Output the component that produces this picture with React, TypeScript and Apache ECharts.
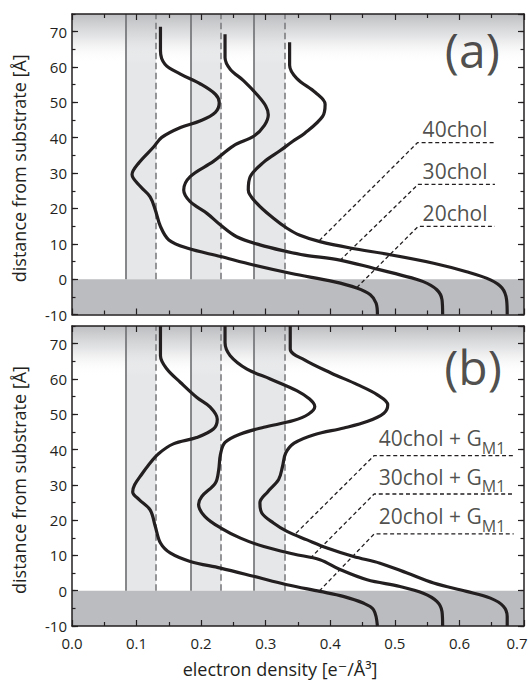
import React, { useEffect, useRef } from "react";
import * as echarts from "echarts";

// ---------- data ----------
const FONT = "'Open Sans', 'DejaVu Sans', sans-serif";
const INK = "#231f20";

const X_RANGE = [0, 0.7];
const Y_RANGE = [-10, 75];
const SOLID_X = [0.0825, 0.184, 0.282];
const DASHED_X = [0.13, 0.231, 0.33];
const SUBSTRATE_Y = [-10, 0];
const FADE_Y = [61, 75];

// panel (a)
const A_20 = [
  [0.137, 71.4], [0.137, 64.6], [0.144, 60.8], [0.168, 58], [0.199, 55.2], [0.222, 52.3],
  [0.228, 50], [0.222, 47.2], [0.199, 44.8], [0.168, 42.9], [0.139, 40.1], [0.126, 37.3],
  [0.104, 33], [0.093, 29.6], [0.106, 26.2], [0.121, 23.3], [0.129, 19.6], [0.137, 14.9],
  [0.15, 11.1], [0.178, 8.8], [0.23, 6.4], [0.281, 4.0], [0.34, 1.6], [0.405, -0.7],
  [0.441, -2.5], [0.462, -4.4], [0.471, -6.8], [0.473, -10],
];
const A_30 = [
  [0.237, 69.3], [0.237, 62.7], [0.245, 59.4], [0.266, 56.1], [0.286, 52.3], [0.3, 49],
  [0.304, 46.5], [0.298, 43.5], [0.282, 40.5], [0.25, 37.7], [0.219, 33.3], [0.183, 29],
  [0.173, 25.2], [0.183, 21.9], [0.209, 18.6], [0.23, 15.3], [0.255, 12], [0.291, 9.7],
  [0.333, 7.8], [0.36, 6.8], [0.415, 5.4], [0.467, 3.1], [0.508, 1.2], [0.544, -0.7],
  [0.565, -3], [0.573, -5.8], [0.574, -10],
];
const A_40 = [
  [0.337, 67], [0.337, 60.5], [0.348, 56.8], [0.377, 52.8], [0.392, 49.5], [0.388, 46],
  [0.36, 41.2], [0.342, 39], [0.322, 36.3], [0.297, 33.1], [0.276, 29], [0.273, 25.2],
  [0.286, 21.5], [0.312, 17.2], [0.333, 14.4], [0.353, 12.4], [0.384, 10.6], [0.431, 8.8],
  [0.493, 6.9], [0.56, 4.5], [0.611, 2.1], [0.648, -0.2], [0.666, -2.5], [0.673, -5.8],
  [0.674, -10],
];

// panel (b)
const B_20 = [
  [0.137, 75], [0.137, 66.6], [0.147, 62.8], [0.168, 59], [0.193, 54.8], [0.214, 52],
  [0.225, 48.6], [0.219, 45.8], [0.193, 43.4], [0.157, 41.6], [0.134, 38.8], [0.118, 35.5],
  [0.108, 33], [0.097, 30], [0.094, 28], [0.104, 25.8], [0.121, 22.9], [0.129, 18.2],
  [0.137, 13.5], [0.152, 10.7], [0.183, 8.3], [0.23, 6.4], [0.281, 4.1], [0.333, 1.7],
  [0.384, -0.2], [0.42, -1.6], [0.451, -3.5], [0.467, -5.4], [0.473, -10],
];
const B_30 = [
  [0.237, 75], [0.237, 70.3], [0.245, 66.6], [0.271, 62.8], [0.307, 60], [0.348, 56.7],
  [0.368, 54.3], [0.376, 52.2], [0.366, 50], [0.343, 48.2], [0.297, 46.3], [0.261, 44.4],
  [0.237, 42], [0.23, 38.7], [0.227, 34], [0.222, 30.5], [0.201, 26.7], [0.196, 24.4],
  [0.206, 21], [0.23, 17.8], [0.261, 14.9], [0.297, 12.5], [0.343, 10.4], [0.384, 8.8],
  [0.415, 6.0], [0.457, 3.1], [0.508, 1.2], [0.544, -0.7], [0.565, -3], [0.573, -5.9],
  [0.574, -10],
];
const B_40 = [
  [0.338, 75], [0.338, 68.5], [0.36, 65.4], [0.401, 61.7], [0.442, 58.4], [0.473, 55.5],
  [0.489, 52.7], [0.483, 50.3], [0.458, 48], [0.421, 46.1], [0.375, 44.2], [0.344, 41.8],
  [0.331, 39], [0.326, 35.2], [0.32, 31.5], [0.303, 28], [0.291, 24.9], [0.294, 22],
  [0.312, 19.2], [0.333, 16.8], [0.364, 14.4], [0.395, 12.1], [0.436, 9.7], [0.477, 7.8],
  [0.519, 5], [0.56, 2.2], [0.611, -0.2], [0.648, -2.1], [0.668, -4.4], [0.674, -7.3],
  [0.674, -10],
];

const A_LABELS = ["40chol", "30chol", "20chol"];
const B_LABELS = ["40chol + G", "30chol + G", "20chol + G"];
const B_SUB = "M1";
const A_LEADERS = [
  [[0.383, 10.9], [0.535, 38.6], [0.655, 38.6]],
  [[0.415, 5.3], [0.536, 26.8], [0.655, 26.8]],
  [[0.441, -2.4], [0.536, 14.9], [0.655, 14.9]],
];
const B_LEADERS = [
  [[0.347, 16.3], [0.468, 38.3], [0.684, 38.3]],
  [[0.369, 9.2], [0.468, 27.4], [0.684, 27.4]],
  [[0.383, -0.1], [0.468, 16.1], [0.684, 16.1]],
];
const A_LABEL_X = 0.543;
const B_LABEL_X = 0.475;
const PANEL_TAGS = ["(a)", "(b)"];
const TAG_POS = [[0.62, 63.4], [0.621, 61.9]];

const X_NAME = "electron density [e\u207B/\u00C5\u00B3]";
const Y_NAME = "distance from substrate [\u00C5]";

// ---------- option builders ----------
function xAx(gridIndex: number, position: string, labels: boolean) {
  return {
    type: "value",
    gridIndex,
    position,
    min: X_RANGE[0],
    max: X_RANGE[1],
    interval: 0.1,
    z: 10,
    splitLine: { show: false },
    axisLine: { show: true, onZero: false, lineStyle: { color: INK, width: 1.5 } },
    axisTick: { show: true, inside: true, length: 6, lineStyle: { color: INK, width: 1.2 } },
    minorTick: { show: true, splitNumber: 2, length: 4, lineStyle: { color: INK, width: 1.2 } },
    axisLabel: {
      show: labels,
      margin: 9,
      fontSize: 15,
      fontFamily: FONT,
      color: INK,
      formatter: (v: number) =>
        v >= X_RANGE[1] - 1e-9 ? `{r|${v.toFixed(1)}}` : v.toFixed(1),
      rich: { r: { fontSize: 15, fontFamily: FONT, color: INK, padding: [0, 14, 0, 0] } },
    },
    ...(labels
      ? {
          name: X_NAME,
          nameLocation: "middle",
          nameGap: 34,
          nameTextStyle: {
            fontSize: 18,
            lineHeight: 18,
            fontFamily: FONT,
            color: INK,
            padding: [0, 36, 0, 0],
          },
        }
      : {}),
  };
}

function yAx(gridIndex: number, position: string, major: boolean, labels: boolean) {
  return {
    type: "value",
    gridIndex,
    position,
    min: Y_RANGE[0],
    max: Y_RANGE[1],
    interval: major ? 10 : 5,
    z: 10,
    splitLine: { show: false },
    axisLine: { show: major, onZero: false, lineStyle: { color: INK, width: 1.5 } },
    axisTick: {
      show: true,
      inside: true,
      length: major ? 6 : 3.5,
      lineStyle: { color: INK, width: 1.2 },
    },
    axisLabel: {
      show: labels,
      margin: 5,
      fontSize: 15,
      fontFamily: FONT,
      color: INK,
      showMaxLabel: false,
    },
    ...(labels
      ? {
          name: Y_NAME,
          nameLocation: "middle",
          nameGap: 44,
          nameTextStyle: { fontSize: 18, fontFamily: FONT, color: INK, padding: [0, 8, 0, 0] },
        }
      : {}),
  };
}

function panelSeries(p: number, curves: number[][][], leaders: number[][][], labels: string[], labelX: number, sub: string | null) {
  const xAxisIndex = p * 2;
  const yAxisIndex = p * 4;
  const base = { xAxisIndex, yAxisIndex, silent: true, animation: false };
  const out: any[] = [];

  const bandAreas: any[] = SOLID_X.map((x0, i) => [
    { coord: [x0, 0], itemStyle: { color: "#e6e7e8" } },
    { coord: [DASHED_X[i], Y_RANGE[1]] },
  ]);
  bandAreas.push([
    { coord: [X_RANGE[0], SUBSTRATE_Y[0]], itemStyle: { color: "#bbbcbf" } },
    { coord: [X_RANGE[1], SUBSTRATE_Y[1]] },
  ]);
  out.push({
    ...base,
    type: "line",
    data: [],
    markArea: { silent: true, z: 1, label: { show: false }, data: bandAreas },
  });

  out.push({
    ...base,
    type: "line",
    data: [],
    markArea: {
      silent: true,
      z: 2,
      label: { show: false },
      itemStyle: {
        color: new echarts.graphic.LinearGradient(0, 0, 0, 1, [
          { offset: 0, color: "rgba(185,186,189,0.95)" },
          { offset: 0.45, color: "rgba(212,213,215,0.65)" },
          { offset: 1, color: "rgba(255,255,255,0)" },
        ]),
      },
      data: [[{ coord: [X_RANGE[0], FADE_Y[0]] }, { coord: [X_RANGE[1], FADE_Y[1]] }]],
    },
  });

  const vLines: any[] = [];
  SOLID_X.forEach((x) =>
    vLines.push([
      { coord: [x, 0], lineStyle: { color: "#6d6e71", width: 1.6, type: "solid" } },
      { coord: [x, Y_RANGE[1]] },
    ])
  );
  DASHED_X.forEach((x) =>
    vLines.push([
      { coord: [x, 0], lineStyle: { color: "#7d7e81", width: 1.6, type: [6.5, 3.5] } },
      { coord: [x, Y_RANGE[1]] },
    ])
  );
  out.push({
    ...base,
    type: "line",
    data: [],
    markLine: { silent: true, z: 3, symbol: ["none", "none"], label: { show: false }, data: vLines },
  });

  leaders.forEach((d) =>
    out.push({
      ...base,
      type: "line",
      z: 4,
      data: d,
      symbol: "none",
      lineStyle: { color: INK, width: 1.3, type: [4, 2.8] },
    })
  );

  curves.forEach((d) =>
    out.push({
      ...base,
      type: "line",
      z: 5,
      data: d,
      symbol: "none",
      smooth: 0.35,
      lineStyle: { color: INK, width: 3.2 },
    })
  );

  out.push({
    ...base,
    type: "scatter",
    z: 6,
    symbolSize: 1,
    itemStyle: { color: "rgba(0,0,0,0)" },
    data: labels.map((t, i) => ({ value: [labelX, leaders[i][1][1]], name: t })),
    label: {
      show: true,
      position: sub ? [0.5, 0.5] : [0.5, 4.5],
      align: "left",
      verticalAlign: "bottom",
      formatter: (prm: any) => (sub ? `{a|${prm.name}}{s|${sub}}` : `{a|${prm.name}}`),
      rich: {
        a: { fontSize: 21, fontFamily: FONT, color: INK, lineHeight: 28, verticalAlign: "top" },
        s: { fontSize: 16, fontFamily: FONT, color: INK, lineHeight: 28, verticalAlign: "bottom" },
      },
    },
  });

  out.push({
    ...base,
    type: "scatter",
    z: 6,
    symbolSize: 1,
    itemStyle: { color: "rgba(0,0,0,0)" },
    data: [{ value: TAG_POS[p], name: PANEL_TAGS[p] }],
    label: {
      show: true,
      position: "inside",
      offset: [0, -6],
      formatter: (prm: any) => prm.name,
      fontSize: 48,
      fontFamily: FONT,
      color: INK,
    },
  });
  return out;
}

export default function App() {
  const ref = useRef<HTMLDivElement>(null);
  useEffect(() => {
    if (!ref.current) return;
    const chart = echarts.init(ref.current, null, { renderer: "svg" });
    const option: any = {
      animation: false,
      backgroundColor: "#ffffff",
      grid: [
        { left: 72, top: 14, width: 452, height: 300.5, outerBoundsMode: "none", containLabel: false },
        { left: 72, top: 326, width: 452, height: 300, outerBoundsMode: "none", containLabel: false },
      ],
      xAxis: [xAx(0, "bottom", false), xAx(0, "top", false), xAx(1, "bottom", true), xAx(1, "top", false)],
      yAxis: [
        yAx(0, "left", true, true), yAx(0, "left", false, false), yAx(0, "right", true, false), yAx(0, "right", false, false),
        yAx(1, "left", true, true), yAx(1, "left", false, false), yAx(1, "right", true, false), yAx(1, "right", false, false),
      ],
      series: [
        ...panelSeries(0, [A_20, A_30, A_40], A_LEADERS, A_LABELS, A_LABEL_X, null),
        ...panelSeries(1, [B_20, B_30, B_40], B_LEADERS, B_LABELS, B_LABEL_X, B_SUB),
      ],
    };
    chart.setOption(option);
    return () => chart.dispose();
  }, []);
  return (
    <div
      ref={ref}
      style={{ position: "fixed", left: 0, top: 0, width: 529, height: 682, background: "#fff" }}
    />
  );
}
